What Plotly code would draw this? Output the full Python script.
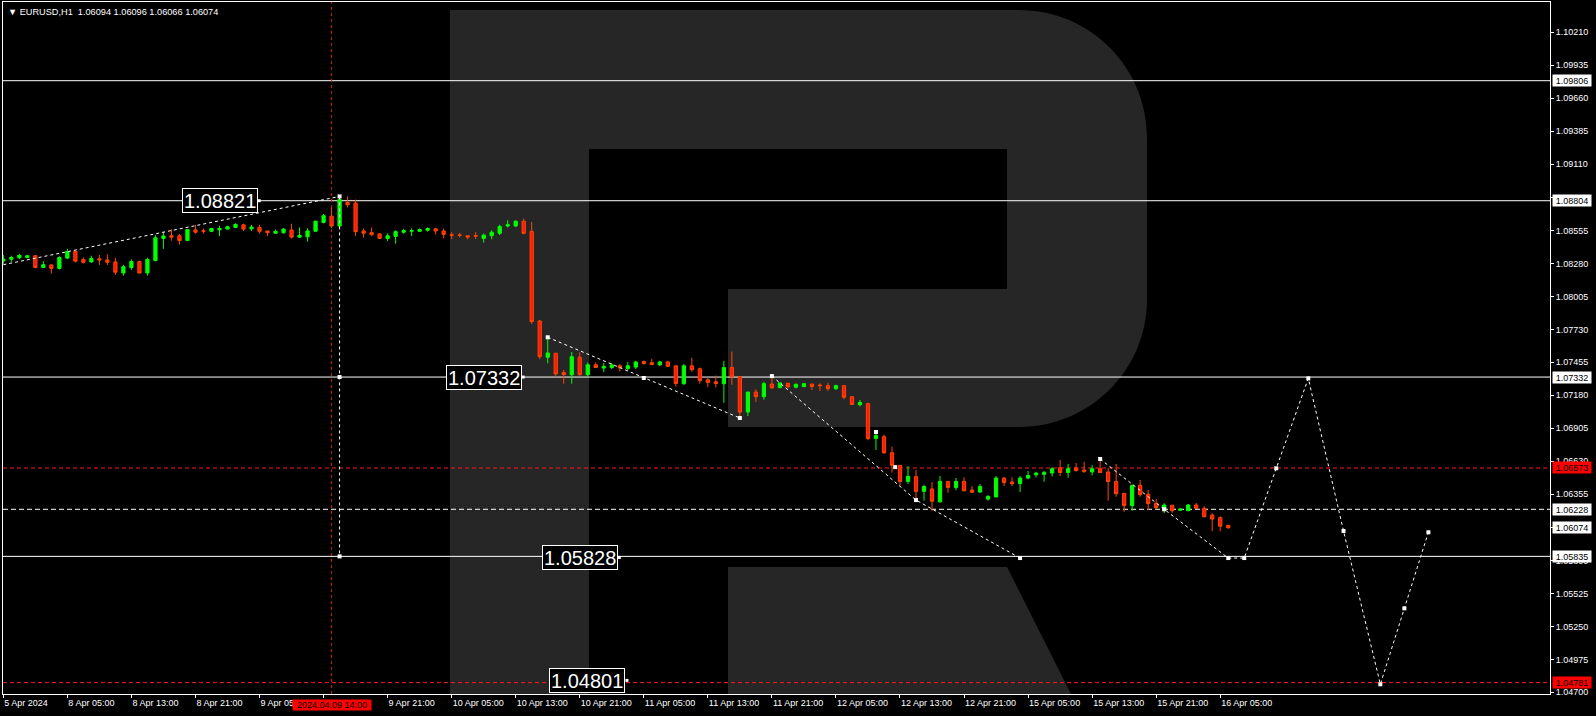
import plotly.graph_objects as go

# ---------------- data (EURUSD H1, bar 0 = 5 Apr 2024 21:00) ----------------
opens = [1.08301, 1.08316, 1.08328, 1.08330, 1.08345, 1.08247, 1.08268, 1.08239, 1.08325, 1.08380,
         1.08314, 1.08293, 1.08319, 1.08310, 1.08293, 1.08201, 1.08247, 1.08296, 1.08201, 1.08304,
         1.08489, 1.08512, 1.08512, 1.08471, 1.08560, 1.08553, 1.08549, 1.08561, 1.08567, 1.08581,
         1.08603, 1.08569, 1.08581, 1.08552, 1.08532, 1.08537, 1.08560, 1.08500, 1.08503, 1.08549,
         1.08623, 1.08675, 1.08593, 1.08790, 1.08784, 1.08552, 1.08538, 1.08527, 1.08489, 1.08506,
         1.08541, 1.08550, 1.08549, 1.08558, 1.08569, 1.08552, 1.08520, 1.08519, 1.08512, 1.08513,
         1.08489, 1.08512, 1.08532, 1.08593, 1.08593, 1.08633, 1.08547, 1.07800, 1.07497, 1.07531,
         1.07369, 1.07351, 1.07497, 1.07351, 1.07435, 1.07407, 1.07412, 1.07426, 1.07404, 1.07415,
         1.07461, 1.07452, 1.07433, 1.07458, 1.07426, 1.07276, 1.07426, 1.07401, 1.07309, 1.07292,
         1.07276, 1.07411, 1.07335, 1.07040, 1.07207, 1.07168, 1.07274, 1.07243, 1.07280, 1.07247,
         1.07252, 1.07274, 1.07266, 1.07260, 1.07235, 1.07260, 1.07168, 1.07101, 1.07110, 1.06820,
         1.06834, 1.06700, 1.06595, 1.06461, 1.06500, 1.06378, 1.06398, 1.06290, 1.06461, 1.06409,
         1.06461, 1.06389, 1.06372, 1.06313, 1.06331, 1.06489, 1.06456, 1.06442, 1.06489, 1.06516,
         1.06520, 1.06530, 1.06574, 1.06535, 1.06574, 1.06556, 1.06540, 1.06567, 1.06540, 1.06461,
         1.06361, 1.06258, 1.06428, 1.06354, 1.06278, 1.06228, 1.06262, 1.06220, 1.06216, 1.06264,
         1.06236, 1.06180, 1.06158, 1.06094]
highs = [1.08351, 1.08345, 1.08360, 1.08352, 1.08351, 1.08299, 1.08276, 1.08340, 1.08402, 1.08388,
         1.08330, 1.08345, 1.08351, 1.08356, 1.08328, 1.08270, 1.08314, 1.08304, 1.08328, 1.08517,
         1.08541, 1.08567, 1.08527, 1.08568, 1.08601, 1.08572, 1.08578, 1.08595, 1.08595, 1.08615,
         1.08612, 1.08603, 1.08603, 1.08552, 1.08563, 1.08575, 1.08612, 1.08581, 1.08575, 1.08638,
         1.08693, 1.08748, 1.08850, 1.08840, 1.08814, 1.08572, 1.08581, 1.08532, 1.08532, 1.08557,
         1.08569, 1.08572, 1.08572, 1.08581, 1.08575, 1.08572, 1.08541, 1.08535, 1.08515, 1.08541,
         1.08529, 1.08557, 1.08603, 1.08641, 1.08641, 1.08653, 1.08627, 1.07809, 1.07664, 1.07533,
         1.07391, 1.07541, 1.07539, 1.07454, 1.07454, 1.07449, 1.07449, 1.07440, 1.07457, 1.07468,
         1.07470, 1.07484, 1.07468, 1.07468, 1.07426, 1.07440, 1.07493, 1.07411, 1.07328, 1.07345,
         1.07468, 1.07545, 1.07335, 1.07207, 1.07230, 1.07293, 1.07335, 1.07283, 1.07283, 1.07277,
         1.07277, 1.07274, 1.07280, 1.07285, 1.07268, 1.07260, 1.07168, 1.07140, 1.07118, 1.06863,
         1.06851, 1.06751, 1.06595, 1.06589, 1.06556, 1.06433, 1.06456, 1.06506, 1.06461, 1.06489,
         1.06495, 1.06422, 1.06439, 1.06347, 1.06506, 1.06498, 1.06495, 1.06506, 1.06548, 1.06541,
         1.06549, 1.06579, 1.06640, 1.06606, 1.06614, 1.06623, 1.06595, 1.06640, 1.06571, 1.06606,
         1.06361, 1.06433, 1.06472, 1.06389, 1.06314, 1.06279, 1.06262, 1.06237, 1.06272, 1.06281,
         1.06254, 1.06195, 1.06169, 1.06096]
lows = [1.08276, 1.08293, 1.08316, 1.08325, 1.08239, 1.08247, 1.08195, 1.08230, 1.08316, 1.08288,
        1.08279, 1.08288, 1.08268, 1.08268, 1.08184, 1.08178, 1.08227, 1.08195, 1.08178, 1.08299,
        1.08402, 1.08471, 1.08437, 1.08471, 1.08529, 1.08529, 1.08541, 1.08509, 1.08567, 1.08575,
        1.08552, 1.08552, 1.08529, 1.08509, 1.08529, 1.08529, 1.08489, 1.08494, 1.08463, 1.08549,
        1.08615, 1.08575, 1.08581, 1.08748, 1.08509, 1.08497, 1.08512, 1.08489, 1.08466, 1.08446,
        1.08529, 1.08509, 1.08546, 1.08546, 1.08523, 1.08489, 1.08483, 1.08497, 1.08483, 1.08483,
        1.08454, 1.08483, 1.08517, 1.08581, 1.08584, 1.08523, 1.07775, 1.07480, 1.07447, 1.07335,
        1.07277, 1.07277, 1.07345, 1.07335, 1.07407, 1.07373, 1.07399, 1.07379, 1.07387, 1.07399,
        1.07436, 1.07431, 1.07427, 1.07416, 1.07253, 1.07267, 1.07376, 1.07276, 1.07248, 1.07245,
        1.07116, 1.07267, 1.06996, 1.07007, 1.07124, 1.07143, 1.07238, 1.07243, 1.07235, 1.07238,
        1.07252, 1.07224, 1.07216, 1.07217, 1.07224, 1.07146, 1.07103, 1.07087, 1.06804, 1.06723,
        1.06690, 1.06534, 1.06422, 1.06439, 1.06314, 1.06300, 1.06216, 1.06283, 1.06366, 1.06388,
        1.06382, 1.06370, 1.06366, 1.06300, 1.06330, 1.06422, 1.06422, 1.06372, 1.06478, 1.06495,
        1.06458, 1.06503, 1.06506, 1.06492, 1.06542, 1.06531, 1.06511, 1.06535, 1.06300, 1.06333,
        1.06208, 1.06216, 1.06333, 1.06222, 1.06228, 1.06195, 1.06200, 1.06214, 1.06216, 1.06231,
        1.06161, 1.06045, 1.06045, 1.06066]
closes = [1.08318, 1.08330, 1.08348, 1.08345, 1.08247, 1.08270, 1.08239, 1.08330, 1.08380, 1.08299,
          1.08290, 1.08322, 1.08310, 1.08290, 1.08207, 1.08253, 1.08296, 1.08201, 1.08314, 1.08494,
          1.08510, 1.08500, 1.08471, 1.08563, 1.08541, 1.08549, 1.08572, 1.08572, 1.08587, 1.08607,
          1.08567, 1.08584, 1.08549, 1.08537, 1.08549, 1.08567, 1.08500, 1.08515, 1.08552, 1.08633,
          1.08679, 1.08593, 1.08814, 1.08770, 1.08546, 1.08532, 1.08520, 1.08489, 1.08512, 1.08546,
          1.08555, 1.08554, 1.08563, 1.08572, 1.08552, 1.08523, 1.08515, 1.08515, 1.08500, 1.08509,
          1.08517, 1.08541, 1.08589, 1.08603, 1.08633, 1.08532, 1.07794, 1.07502, 1.07533, 1.07358,
          1.07353, 1.07502, 1.07351, 1.07435, 1.07412, 1.07421, 1.07433, 1.07409, 1.07426, 1.07458,
          1.07444, 1.07436, 1.07458, 1.07422, 1.07278, 1.07426, 1.07393, 1.07303, 1.07287, 1.07278,
          1.07411, 1.07335, 1.07040, 1.07207, 1.07168, 1.07277, 1.07241, 1.07283, 1.07252, 1.07272,
          1.07277, 1.07252, 1.07260, 1.07235, 1.07260, 1.07163, 1.07103, 1.07120, 1.06818, 1.06843,
          1.06700, 1.06595, 1.06461, 1.06503, 1.06378, 1.06418, 1.06295, 1.06461, 1.06411, 1.06461,
          1.06382, 1.06370, 1.06418, 1.06335, 1.06489, 1.06451, 1.06442, 1.06489, 1.06510, 1.06530,
          1.06536, 1.06567, 1.06535, 1.06567, 1.06551, 1.06545, 1.06567, 1.06535, 1.06459, 1.06358,
          1.06258, 1.06428, 1.06350, 1.06275, 1.06242, 1.06264, 1.06216, 1.06229, 1.06264, 1.06236,
          1.06166, 1.06146, 1.06087, 1.06074]
bars = list(range(len(opens)))

# time axis labels (every 8 bars); the 9 Apr 13:00 label is covered by the crosshair label
tick_bars = [0, 8, 16, 24, 32, 40, 48, 56, 64, 72, 80, 88, 96, 104, 112, 120, 128, 136, 144, 152]
tick_text = ["5 Apr 2024", "8 Apr 05:00", "8 Apr 13:00", "8 Apr 21:00", "9 Apr 05:00", "",
             "9 Apr 21:00", "10 Apr 05:00", "10 Apr 13:00", "10 Apr 21:00", "11 Apr 05:00",
             "11 Apr 13:00", "11 Apr 21:00", "12 Apr 05:00", "12 Apr 13:00", "12 Apr 21:00",
             "15 Apr 05:00", "15 Apr 13:00", "15 Apr 21:00", "16 Apr 05:00"]

# price axis ticks (labels hidden behind level boxes are left blank)
price_ticks = [1.10210, 1.09935, 1.09660, 1.09385, 1.09110, 1.08835, 1.08555, 1.08280, 1.08005,
               1.07730, 1.07455, 1.07180, 1.06905, 1.06630, 1.06355, 1.06080, 1.05800, 1.05525,
               1.05250, 1.04975, 1.04700]
price_tick_text = ["1.10210", "1.09935", "1.09660", "1.09385", "1.09110", "", "1.08555", "1.08280",
                   "1.08005", "1.07730", "1.07455", "1.07180", "1.06905", "1.06630", "1.06355", "",
                   "1.05800", "1.05525", "1.05250", "1.04975", "1.04700"]

# horizontal levels
solid_levels = [1.09806, 1.08804, 1.07332, 1.05835]
red_levels = [1.06573, 1.04781]
white_dash_levels = [1.06228]
current_price = 1.06074

# wave analysis (dashed) lines
wave_a_x, wave_a_y = [0, 42], [1.08270, 1.08840]
wave_v_x, wave_v_y = [42, 42], [1.08840, 1.05835]
wave_c_x, wave_c_y = [68, 80, 92], [1.07664, 1.07324, 1.06990]
wave_d_x, wave_d_y = [96, 114, 127], [1.07340, 1.06305, 1.05821]
wave_e_x, wave_e_y = [137, 145, 153], [1.06648, 1.06228, 1.05821]
fc_x = [153, 155, 159, 163, 167.4, 172, 175, 178]
fc_y = [1.05821, 1.05821, 1.06570, 1.07321, 1.06047, 1.04767, 1.05401, 1.06036]
mark_x = [42, 42, 42, 68, 80, 92, 96, 109, 111.4, 114, 127, 137, 145, 153,
          155, 159, 163, 167.4, 172, 175, 178]
mark_y = [1.08840, 1.07332, 1.05835, 1.07664, 1.07324, 1.06990, 1.07340, 1.06873, 1.06580, 1.06305,
          1.05821, 1.06648, 1.06228, 1.05821, 1.05821, 1.06570, 1.07321, 1.06047, 1.04767, 1.05401,
          1.06036]

# price text boxes
box_text = ["1.08821", "1.07332", "1.05828", "1.04801"]
box_bar = [31.76, 64.73, 76.74, 77.69]
box_price = [1.08804, 1.07332, 1.05826, 1.04800]

crosshair_bar = 41
crosshair_label = "2024.04.09 14:00"
title_text = "EURUSD,H1  1.06094 1.06096 1.06066 1.06074"

# ---------------- figure ----------------
W, H = 1596, 716
ML, MR, MT, MB = 3, 46, 2, 22
PW, PH = W - ML - MR, H - MT - MB
X_RANGE = [-0.04, 193.19]
Y_RANGE = [1.04686, 1.10463]
FONT = "Liberation Sans, Arial, sans-serif"

def px(x, y):
    return "%.5f,%.5f" % ((x - ML) / PW, (H - MB - y) / PH)

fig = go.Figure()

# RoboForex "R" watermark (pixel geometry -> paper coords)
r_main = ("M " + px(450, 10) + " L " + px(1019, 10) +
          " C " + px(1090, 10) + " " + px(1147, 67) + " " + px(1147, 138) +
          " L " + px(1147, 299) +
          " C " + px(1147, 370) + " " + px(1090, 427) + " " + px(1019, 427) +
          " L " + px(728, 427) + " L " + px(728, 289) + " L " + px(1007, 289) +
          " L " + px(1007, 149) + " L " + px(589, 149) + " L " + px(589, 694) +
          " L " + px(450, 694) + " Z")
r_leg = ("M " + px(728, 567) + " L " + px(1007, 567) + " L " + px(1071, 694) +
         " L " + px(728, 694) + " Z")
for p in (r_main, r_leg):
    fig.add_shape(type="path", path=p, xref="paper", yref="paper",
                  fillcolor="#262626", line=dict(width=0), layer="below")

for lv in solid_levels:
    fig.add_shape(type="line", xref="paper", x0=0, x1=1, yref="y", y0=lv, y1=lv,
                  line=dict(color="white", width=1), layer="below")
for lv in red_levels:
    fig.add_shape(type="line", xref="paper", x0=0, x1=1, yref="y", y0=lv, y1=lv,
                  line=dict(color="#FF1A1A", width=1, dash="4px,3px"), layer="below")
for lv in white_dash_levels:
    fig.add_shape(type="line", xref="paper", x0=0, x1=1, yref="y", y0=lv, y1=lv,
                  line=dict(color="white", width=1, dash="5px,3px"), layer="below")
fig.add_shape(type="line", xref="x", x0=crosshair_bar, x1=crosshair_bar, yref="paper", y0=0, y1=1,
              line=dict(color="#C81E1E", width=1, dash="3px,3px"), layer="below")

fig.add_trace(go.Candlestick(
    x=bars, open=opens, high=highs, low=lows, close=closes,
    increasing=dict(line=dict(color="#00FF00", width=1), fillcolor="#00FF00"),
    decreasing=dict(line=dict(color="#FF4500", width=1), fillcolor="#FF1A0A"),
    whiskerwidth=0, showlegend=False, hoverinfo="skip"))

for wx, wy in [(wave_a_x, wave_a_y), (wave_v_x, wave_v_y), (wave_c_x, wave_c_y),
               (wave_d_x, wave_d_y), (wave_e_x, wave_e_y), (fc_x, fc_y)]:
    fig.add_trace(go.Scatter(x=wx, y=wy, mode="lines", showlegend=False, hoverinfo="skip",
                             line=dict(color="white", width=1, dash="3px,3px")))
fig.add_trace(go.Scatter(x=mark_x, y=mark_y, mode="markers", showlegend=False, hoverinfo="skip",
                         marker=dict(symbol="square", size=4, color="white")))
fig.add_trace(go.Scatter(x=[b + 0.2 for b in box_bar], y=box_price, mode="markers",
                         showlegend=False, hoverinfo="skip",
                         marker=dict(symbol="square", size=3, color="white")))

ann = []
for t, b, p in zip(box_text, box_bar, box_price):
    ann.append(dict(x=b, y=p, xref="x", yref="y", text=t, showarrow=False, xanchor="right",
                    yanchor="middle", bgcolor="black", bordercolor="white", borderwidth=1,
                    borderpad=1, height=21,
                    font=dict(family="Liberation Sans, Arial, sans-serif", size=20, color="white")))

right_labels = [(v, "white") for v in solid_levels] + [(v, "#FF0000") for v in red_levels] + \
               [(v, "white") for v in white_dash_levels] + [(current_price, "white")]
for v, c in right_labels:
    ann.append(dict(x=1, y=v, xref="paper", yref="y", text="%.5f" % v, showarrow=False,
                    xanchor="left", yanchor="middle", xshift=2, bgcolor=c, width=38, height=11,
                    borderpad=0, font=dict(family=FONT, size=9, color="black")))

ann.append(dict(x=crosshair_bar, y=0, xref="x", yref="paper", text=crosshair_label, showarrow=False,
                xanchor="center", yanchor="top", yshift=-5, bgcolor="#FF0000", width=78, height=10,
                borderpad=0, font=dict(family=FONT, size=9, color="black")))
ann.append(dict(x=0, y=1, xref="paper", yref="paper", text="\u25BC " + title_text, showarrow=False,
                xanchor="left", yanchor="top", xshift=3, yshift=-3,
                font=dict(family=FONT, size=9.2, color="white")))

fig.update_layout(
    width=W, height=H, margin=dict(l=ML, r=MR, t=MT, b=MB, pad=0),
    paper_bgcolor="black", plot_bgcolor="black", boxgap=0.42,
    showlegend=False, annotations=ann,
    xaxis=dict(range=X_RANGE, showgrid=False, zeroline=False, rangeslider=dict(visible=False),
               tickmode="array", tickvals=tick_bars, ticktext=tick_text,
               ticklabelposition="outside right", ticks="outside", ticklen=3, tickcolor="white",
               tickfont=dict(family=FONT, size=9, color="white"),
               showline=True, linecolor="white", linewidth=1, mirror=True),
    yaxis=dict(range=Y_RANGE, side="right", showgrid=False, zeroline=False,
               tickmode="array", tickvals=price_ticks, ticktext=price_tick_text,
               ticks="outside", ticklen=3, tickcolor="white",
               tickfont=dict(family=FONT, size=9, color="white"),
               showline=True, linecolor="white", linewidth=1, mirror=True),
)

fig.write_html("out.html", config={"displayModeBar": False},
               post_script="document.body.style.margin='0';document.body.style.background='black';")
